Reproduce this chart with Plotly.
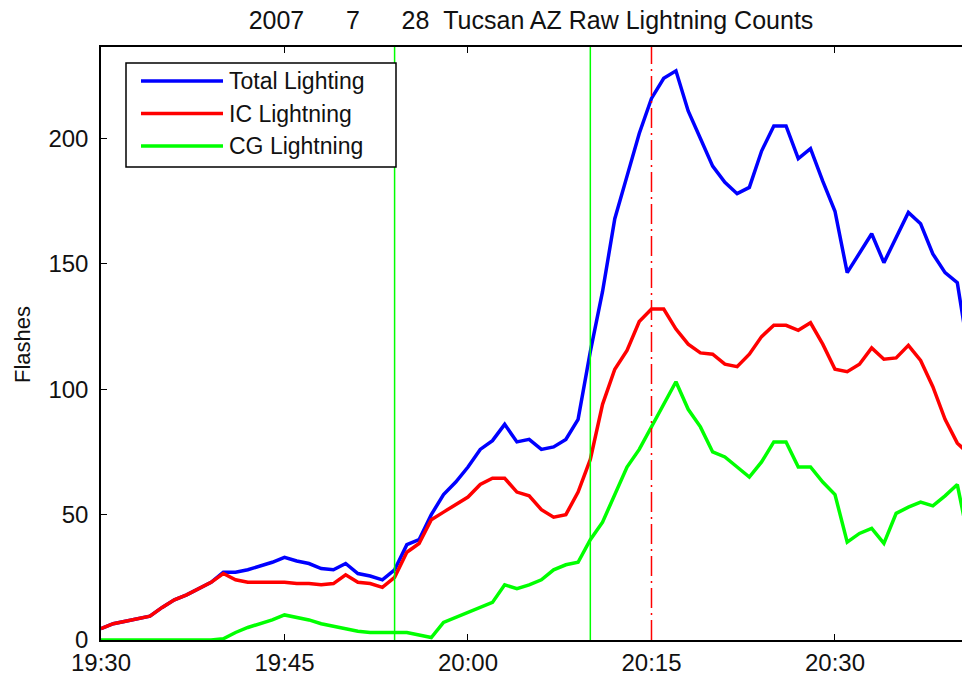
"""Tucson AZ raw lightning counts, 2007-07-28 (1-minute bins)."""
import pandas as pd
import plotly.graph_objects as go

# 1-minute counts starting 19:30
total_flashes = [4.5, 6.5, 7.5, 8.5, 9.5, 13, 16, 18, 20.5, 23,
                 27, 27, 28, 29.5, 31, 33, 31.5, 30.5, 28.5, 28,
                 30.5, 26.5, 25.5, 24, 28, 38, 40, 50, 58, 63,
                 69, 76, 79.5, 86, 79, 80, 76, 77, 80, 88,
                 115, 139, 168, 185, 202, 216, 224, 227, 211, 200,
                 189, 182.5, 178, 180.5, 195, 205, 205, 192, 196, 183,
                 171, 146.5, 154, 162, 150.5, 160.5, 170.5, 166, 154, 146.5,
                 142.5, 112]
ic_flashes = [4.5, 6.5, 7.5, 8.5, 9.5, 13, 16, 18, 20.5, 23,
              26.5, 24, 23, 23, 23, 23, 22.5, 22.5, 22, 22.5,
              26, 23, 22.5, 21, 25, 35, 38.5, 48, 51, 54,
              57, 62, 64.5, 64.5, 59, 57.5, 52, 49, 50, 59,
              72, 94, 108, 115.5, 127, 132, 132, 124, 118, 114.5,
              114, 110, 109, 114, 121, 125.5, 125.5, 123.5, 126.5, 118,
              108, 107, 110, 116.5, 112, 112.5, 117.5, 111.5, 101, 88,
              78.5, 74]
cg_flashes = [0, 0, 0, 0, 0, 0, 0, 0, 0, 0,
              0.5, 3, 5, 6.5, 8, 10, 9, 8, 6.5, 5.5,
              4.5, 3.5, 3, 3, 3, 3, 2, 1, 7, 9,
              11, 13, 15, 22, 20.5, 22, 24, 28, 30, 31,
              40, 47, 58, 69, 76, 85, 94, 103, 92, 85,
              75, 73, 69, 65, 71, 79, 79, 69, 69, 63,
              58, 39, 42.5, 44.5, 38.5, 50.5, 53, 55, 53.5, 57.5,
              62, 38]

series_names = ["Total Lighting", "IC Lightning", "CG Lightning"]
series_colors = ["#0000ff", "#ff0000", "#00ff00"]

event_times = ["2007-07-28 19:54", "2007-07-28 20:10"]
peak_time = "2007-07-28 20:15"

tick_times = ["2007-07-28 19:30", "2007-07-28 19:45", "2007-07-28 20:00",
              "2007-07-28 20:15", "2007-07-28 20:30"]
tick_labels = ["19:30", "19:45", "20:00", "20:15", "20:30"]
y_ticks = [0, 50, 100, 150, 200]

W, H = 962, 675
L, R, T, B = 101, 0, 47, 35
FONT = "Liberation Sans, Arial, sans-serif"
TXT = "#111111"

times = pd.date_range("2007-07-28 19:30", periods=len(total_flashes), freq="1min")


def px_x(px):
    # page pixel -> paper x
    return (px - L) / (W - L - R)


def px_y(py):
    # page pixel -> paper y
    return (H - B - py) / (H - T - B)


fig = go.Figure()
for name, vals, col in zip(series_names, [total_flashes, ic_flashes, cg_flashes], series_colors):
    fig.add_trace(go.Scatter(x=times, y=vals, mode="lines", name=name,
                             line=dict(color=col, width=3.5), showlegend=False))

title_text = "2007" + "\u00a0" * 6 + "7" + "\u00a0" * 6 + "28" + "\u00a0" * 2 + \
             "Tucsan AZ Raw Lightning Counts"

fig.update_layout(
    width=W, height=H,
    margin=dict(l=L, r=R, t=T, b=B),
    paper_bgcolor="white", plot_bgcolor="white",
    font=dict(family=FONT, size=24, color=TXT),
    title=dict(text=title_text, x=px_x(531), xref="paper", xanchor="center",
               y=1 - 20 / H, yref="container", yanchor="middle",
               font=dict(family=FONT, size=25, color=TXT)),
    xaxis=dict(range=["2007-07-28 19:30", "2007-07-28 20:40:23"],
               tickvals=tick_times, ticktext=tick_labels,
               ticks="inside", ticklen=6, tickcolor="black", tickwidth=1.2,
               showline=True, linecolor="black", linewidth=1.5, mirror="ticks",
               showgrid=False, zeroline=False),
    yaxis=dict(range=[0, 236.5], tickvals=y_ticks,
               ticks="inside", ticklen=6, tickcolor="black", tickwidth=1.2,
               showline=True, linecolor="black", linewidth=1.5,
               showgrid=False, zeroline=False, ticklabelstandoff=6),
)

fig.add_annotation(xref="paper", yref="paper", x=px_x(22), y=px_y(345),
                   text="Flashes", textangle=-90, showarrow=False,
                   xanchor="center", yanchor="middle",
                   font=dict(family=FONT, size=22, color=TXT))

for t in event_times:
    fig.add_vline(x=t, line=dict(color="#00ff00", width=1.5))
fig.add_vline(x=peak_time, line=dict(color="#ff0000", width=1.5, dash="20px,5px,2px,5px"))

# MATLAB-style legend box (long line samples)
fig.add_shape(type="rect", xref="paper", yref="paper",
              x0=px_x(126), x1=px_x(396), y0=px_y(167), y1=px_y(63),
              line=dict(color="black", width=1.5), fillcolor="white", layer="above")
for i, (name, col) in enumerate(zip(series_names, series_colors)):
    yy = px_y(81 + i * 32.5)
    fig.add_shape(type="line", xref="paper", yref="paper",
                  x0=px_x(141), x1=px_x(223), y0=yy, y1=yy,
                  line=dict(color=col, width=3.5), layer="above")
    fig.add_annotation(xref="paper", yref="paper", x=px_x(227), y=yy,
                       text=name, showarrow=False, xanchor="left", yanchor="middle",
                       font=dict(family=FONT, size=23, color=TXT))

# drop the browser's default body margin so the figure fills the window
fig.write_html("out.html", config={"displayModeBar": False},
               post_script="document.body.style.margin='0';document.body.style.overflow='hidden';")
